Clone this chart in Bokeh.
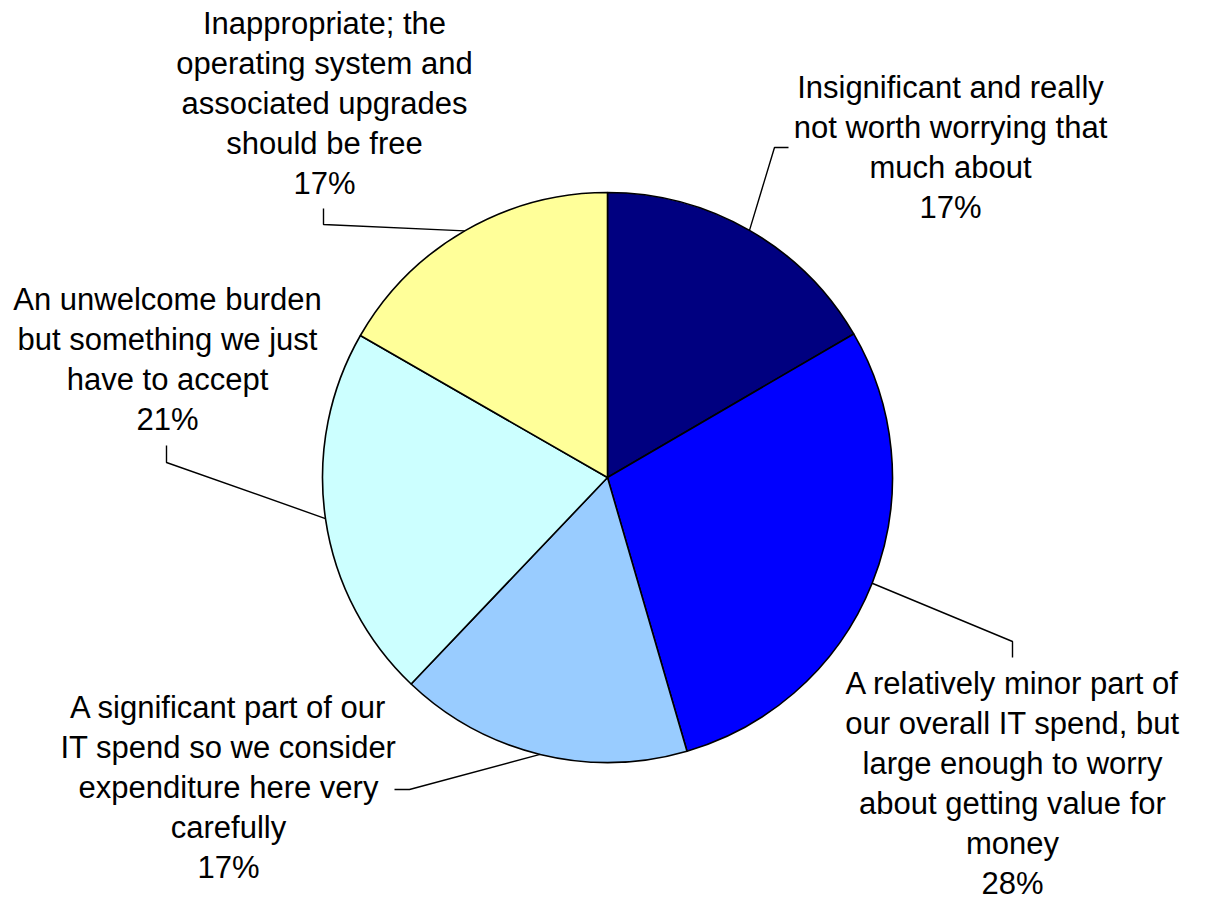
import math
from bokeh.plotting import figure
from bokeh.models import ColumnDataSource, Range1d
from bokeh.core.properties import value
from bokeh.embed import file_html
from bokeh.resources import INLINE

# ---- data ----
categories = [
    "Insignificant and really\nnot worth worrying that\nmuch about",
    "A relatively minor part of\nour overall IT spend, but\nlarge enough to worry\nabout getting value for\nmoney",
    "A significant part of our\nIT spend so we consider\nexpenditure here very\ncarefully",
    "An unwelcome burden\nbut something we just\nhave to accept",
    "Inappropriate; the\noperating system and\nassociated upgrades\nshould be free",
]
values = [16.6, 28.9, 16.6, 21.2, 16.7]
pct_labels = ["17%", "28%", "17%", "21%", "17%"]
colors = ["#000080", "#0000FF", "#99CCFF", "#CCFFFF", "#FFFF99"]

# ---- layout (picture pixel coordinates, y downwards) ----
W, H = 1199, 903


def Y(v):
    return H - v


CX, CY, R = 607, 477, 285
LINE = 40
FONT = "31px"
TEXT_DY = 11  # compensation: rendered baseline sits lower than requested
label_pos = [(950, 98), (1012, 694), (228, 718), (167, 310), (324, 34)]
leader_pts = [
    [(774, 147), (788, 147)],
    [(1012, 641), (1012, 657)],
    [(409, 789), (394, 789)],
    [(166, 462), (166, 445)],
    [(323, 224), (323, 208)],
]

total = sum(values)
starts, ends, mids = [], [], []
c = 0.0
for v in values:
    f0 = c / total
    c += v
    f1 = c / total
    starts.append(math.pi / 2 - 2 * math.pi * f0)
    ends.append(math.pi / 2 - 2 * math.pi * f1)
    mids.append((f0 + f1) / 2)

p = figure(width=W, height=H, x_range=Range1d(0, W), y_range=Range1d(0, H),
           output_backend="svg", toolbar_location=None, min_border=0)
p.axis.visible = False
p.grid.visible = False
p.outline_line_color = None
p.background_fill_color = "white"
p.border_fill_color = "white"

src = ColumnDataSource(dict(start=starts, end=ends, color=colors, cat=categories, val=values))
p.wedge(x=CX, y=Y(CY), radius=R, start_angle="start", end_angle="end", direction="clock",
        fill_color="color", line_color="black", line_width=1.6, source=src)

# leader lines from slice mid-angle on the rim
xs, ys = [], []
for frac, pts in zip(mids, leader_pts):
    a = 2 * math.pi * frac
    ex = CX + R * math.sin(a)
    ey = CY - R * math.cos(a)
    xs.append([ex] + [q[0] for q in pts])
    ys.append([Y(ey)] + [Y(q[1]) for q in pts])
p.multi_line(xs=xs, ys=ys, line_color="black", line_width=1.4)

# labels
tx, ty, tt = [], [], []
for cat, pct, (lx, ly) in zip(categories, pct_labels, label_pos):
    lines = cat.split("\n") + [pct]
    for i, ln in enumerate(lines):
        tx.append(lx)
        ty.append(Y(ly + i * LINE - TEXT_DY))
        tt.append(ln)
p.text(x=tx, y=ty, text=tt, text_align="center", text_baseline="alphabetic",
       text_font=value("Liberation Sans"), text_font_size=FONT, text_color="black")

open("out.html", "w").write(file_html(p, INLINE))
